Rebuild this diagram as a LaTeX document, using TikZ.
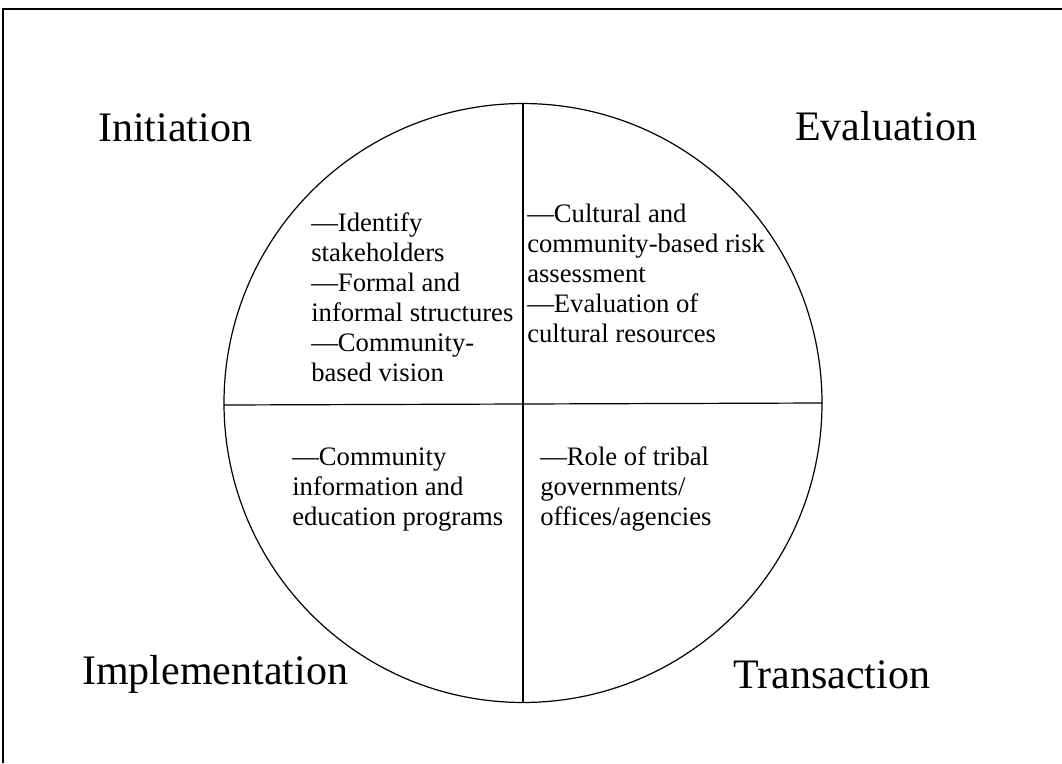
\documentclass[tikz,border=0pt]{standalone}
\usepackage{fontspec}
\setmainfont{Liberation Serif}
\begin{document}
\begin{tikzpicture}[x=0.75pt,y=-0.75pt,
  frame/.style={line width=1.5pt},
  divider/.style={line width=0.9pt},
  phase/.style={font=\fontsize{31.5}{38}\selectfont, anchor=base west, inner sep=0pt},
  item/.style={font=\fontsize{20}{22.5}\selectfont, align=left, anchor=base west, inner sep=0pt}]
\useasboundingbox (0,0) rectangle (1062,763);
% page frame (top and left rules)
\coordinate (fbl) at (3,763);
\coordinate (ftl) at (3,9);
\coordinate (ftr) at (1062,9);
\draw[frame] (fbl) -- (ftl) -- (ftr);
% the cycle, split into four phases
\coordinate (c) at (523,403);
\coordinate (top) at (523,103);
\coordinate (bot) at (523,702);
\coordinate (lft) at (224,405);
\coordinate (rgt) at (822,403);
\draw[divider] (c) circle [x radius=224.25pt, y radius=224.6pt];
\draw[divider] (top) -- (bot);
\draw[divider] (lft) -- (rgt);
% phase names
\node[phase] (initiation) at (98,142) {Initiation};
\node[phase] (evaluation) at (795,141) {Evaluation};
\node[phase] (implementation) at (82,684) {Implementation};
\node[phase] (transaction) at (733,688) {Transaction};
% quadrant contents (anchored at the baseline of the last line)
\node[item] (q1) at (311,381) {---Identify\\stakeholders\\---Formal and\\informal structures\\---Community-\\based vision};
\node[item] (q2) at (527,342) {---Cultural and\\community-based risk\\assessment\\---Evaluation of\\cultural resources};
\node[item] (q3) at (292,525) {---Community\\information and\\education programs};
\node[item] (q4) at (540,525) {---Role of tribal\\governments/\\offices/agencies};
\end{tikzpicture}
\end{document}
